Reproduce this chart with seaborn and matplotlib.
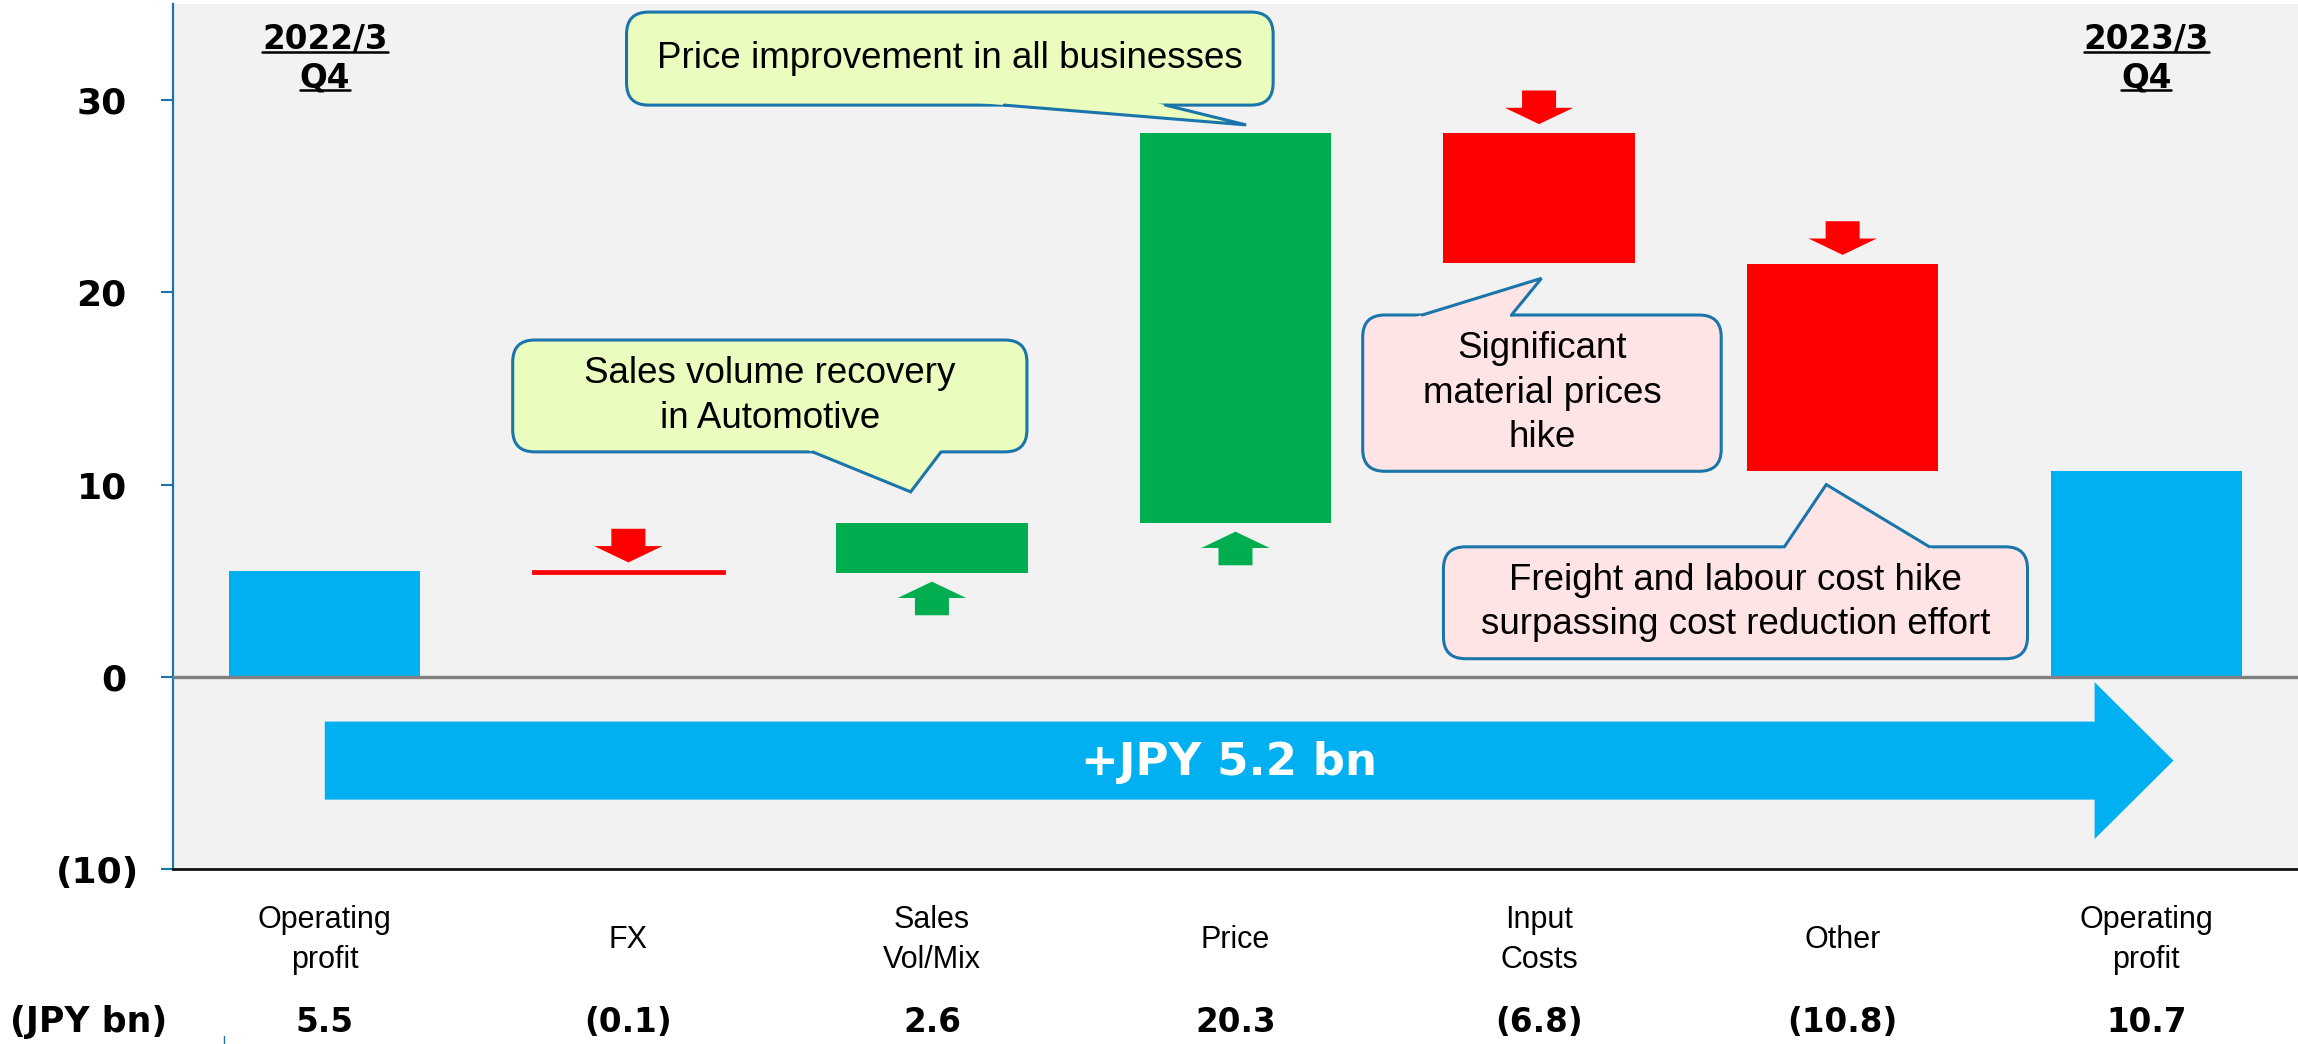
import numpy as np
import pandas as pd
import seaborn as sns
import matplotlib
matplotlib.use('Agg')
import matplotlib.pyplot as plt
import matplotlib.transforms as mtransforms
from matplotlib.patches import FancyBboxPatch, FancyArrow, Polygon
from matplotlib.lines import Line2D

# ---- data ----
steps = ['Start', 'FX', 'Sales Vol/Mix', 'Price', 'Input Costs', 'Other', 'End']
cat_labels = ['Operating\nprofit', 'FX', 'Sales\nVol/Mix', 'Price',
              'Input\nCosts', 'Other', 'Operating\nprofit']
deltas = [5.5, -0.1, 2.6, 20.3, -6.8, -10.8, 10.7]
kinds = ['total', 'decrease', 'increase', 'increase', 'decrease', 'decrease', 'total']
yticks = [-10, 0, 10, 20, 30]
period_start = ['2022/3', 'Q4']
period_end = ['2023/3', 'Q4']
change_label = '+JPY 5.2 bn'
unit_label = '(JPY bn)'

BLUE = '#00B0F0'
GREEN = '#00AE50'
RED = '#FF0000'
EDGE = '#1A76AA'
kind_colors = {'total': BLUE, 'increase': GREEN, 'decrease': RED}

def fmt(v):
    return '({:g})'.format(abs(v)) if v < 0 else '{:g}'.format(v)

def fmt1(v):
    return '({:.1f})'.format(abs(v)) if v < 0 else '{:.1f}'.format(v)

# waterfall bottoms
bottoms = []
run = 0.0
for d, k in zip(deltas, kinds):
    if k == 'total':
        bottoms.append(0.0)
        run = d
    else:
        bottoms.append(run)
        run += d

df = pd.DataFrame({'step': steps, 'delta': deltas, 'bottom': bottoms})

sns.set_theme(style='white')
plt.rcParams['font.family'] = ['Liberation Sans', 'DejaVu Sans']
BOLD = ['DejaVu Sans']

W, H = 2298, 1044
fig = plt.figure(figsize=(W / 100, H / 100), dpi=100)
ax = fig.add_axes([173 / W, (H - 869) / H, (W - 173) / W, 865 / H])
ax.set_facecolor('#F2F2F2')

sns.barplot(data=df, x='step', y='delta', order=steps, bottom=df['bottom'].to_numpy(),
            width=0.63, errorbar=None, color=BLUE, linewidth=0, ax=ax, zorder=2)
for p, k in zip(ax.patches, kinds):
    p.set_facecolor(kind_colors[k])
    p.set_edgecolor(kind_colors[k])
    p.set_linewidth(0)
# the tiny FX step would vanish otherwise
ax.patches[1].set_linewidth(2)

ax.set_xlim(-0.5, 6.5)
ax.set_ylim(-10, 35)
ax.set_xlabel('')
ax.set_ylabel('')
ax.axhline(0, color='#808080', lw=2.4, zorder=3)

for s in ['top', 'right']:
    ax.spines[s].set_visible(False)
ax.spines['left'].set_color(EDGE)
ax.spines['left'].set_linewidth(1.6)
ax.spines['bottom'].set_color('#111111')
ax.spines['bottom'].set_linewidth(2)

ax.tick_params(axis='y', left=True, length=8.6, width=1.5, color=EDGE, pad=16)
ax.tick_params(axis='x', bottom=False, length=0, pad=51)
ax.set_yticks(yticks)
ax.set_yticklabels([fmt(v) for v in yticks], fontsize=26, fontweight='bold',
                   family=BOLD, color='black')
shift = mtransforms.ScaledTranslation(-12 / 100, 0, fig.dpi_scale_trans)
for lab, v in zip(ax.get_yticklabels(), yticks):
    if v >= 0:
        lab.set_transform(lab.get_transform() + shift)

ax.set_xticks(range(len(steps)))
ax.set_xticklabels(cat_labels, fontsize=22, linespacing=1.45, va='center', color='black')

# value row
xt = mtransforms.blended_transform_factory(ax.transData, ax.transAxes)
for i, d in enumerate(deltas):
    ax.text(i, -0.177, fmt1(d), transform=xt, ha='center', va='center',
            fontsize=23.5, fontweight='bold', family=BOLD, color='black')
fig.text(10 / W, (H - 1022) / H, unit_label, ha='left', va='center',
         fontsize=25, fontweight='bold', family=BOLD, color='black')
fig.add_artist(Line2D([224 / W, 224 / W], [0, 8 / H], color=EDGE, lw=1))

# small direction arrows
gap, length = 0.45, 1.75
for i, (k, b) in enumerate(zip(kinds, bottoms)):
    if k == 'decrease':
        ax.add_patch(FancyArrow(i, b + gap + length, 0, -length, width=0.112,
                                head_width=0.225, head_length=0.85,
                                length_includes_head=True, color=RED, lw=0, zorder=4))
    elif k == 'increase':
        ax.add_patch(FancyArrow(i, b - gap - length, 0, length, width=0.112,
                                head_width=0.225, head_length=0.85,
                                length_includes_head=True, color=GREEN, lw=0, zorder=4))

# big overall arrow
ax.add_patch(FancyArrow(0, -4.36, 6.09, 0, width=4.06, head_width=8.16, head_length=0.26,
                        length_includes_head=True, color=BLUE, lw=0, zorder=4))
ax.text(2.98, -4.45, change_label, ha='center', va='center', color='white',
        fontsize=32.5, fontweight='bold', family=BOLD, zorder=5)

# callouts
ax_w_px, ax_h_px = W - 173, 865
xs = 7 / ax_w_px
ys = 45 / ax_h_px

def callout(box, tail, text, face):
    x0, x1, y0, y1 = box
    r = 22
    ax.add_patch(FancyBboxPatch((x0, y0), x1 - x0, y1 - y0,
                                boxstyle='round,pad=0,rounding_size={}'.format(r * xs),
                                mutation_aspect=ys / xs, fc=face, ec=EDGE, lw=2.2, zorder=6))
    bl, tip, br = [np.array(p, dtype=float) for p in tail]
    cy = (y0 + y1) / 2
    pts = []
    for p in (bl, br):
        dvec = p - tip
        t = 0.3 / abs(dvec[1])
        pts.append(p + dvec * t)
    ax.add_patch(Polygon([pts[0], tip, pts[1]], closed=True, fc=face, ec='none', zorder=7))
    ax.add_line(Line2D([bl[0], tip[0], br[0]], [bl[1], tip[1], br[1]], color=EDGE,
                       lw=2.2, zorder=8, solid_joinstyle='miter'))
    ax.text((x0 + x1) / 2, cy, text, ha='center', va='center', fontsize=26.5,
            linespacing=1.35, color='black', zorder=9)

callout((0.994, 3.124, 29.74, 34.58), [(2.238, 29.74), (3.035, 28.71), (2.769, 29.74)],
        'Price improvement in all businesses', '#EAFCBE')
callout((0.619, 2.313, 11.70, 17.52), [(1.607, 11.70), (1.93, 9.62), (2.03, 11.70)],
        'Sales volume recovery\nin Automotive', '#EAFCBE')
callout((3.419, 4.60, 10.69, 18.82), [(3.615, 18.82), (4.008, 20.73), (3.909, 18.82)],
        'Significant\nmaterial prices\nhike', '#FFE4E6')
callout((3.685, 5.609, 0.94, 6.76), [(4.808, 6.76), (4.946, 10.0), (5.286, 6.76)],
        'Freight and labour cost hike\nsurpassing cost reduction effort', '#FFE4E6')

# period headers, underlined
pt = mtransforms.blended_transform_factory(ax.transData, fig.transFigure)
heads = []
for xi, lines in [(0, period_start), (6, period_end)]:
    for line, base in zip(lines, [49, 87]):
        t = ax.text(xi, 1 - base / H, line, transform=pt, ha='center', va='baseline',
                    fontsize=23.5, fontweight='bold', family=BOLD, color='black', zorder=9)
        heads.append((t, base))

renderer = fig.canvas.get_renderer()
for t, base in heads:
    bb = t.get_window_extent(renderer)
    yl = 1 - (base + 3) / H
    fig.add_artist(Line2D([bb.x0 / W, bb.x1 / W], [yl, yl], color='black', lw=1.8))

fig.savefig('out.png', dpi=100)
